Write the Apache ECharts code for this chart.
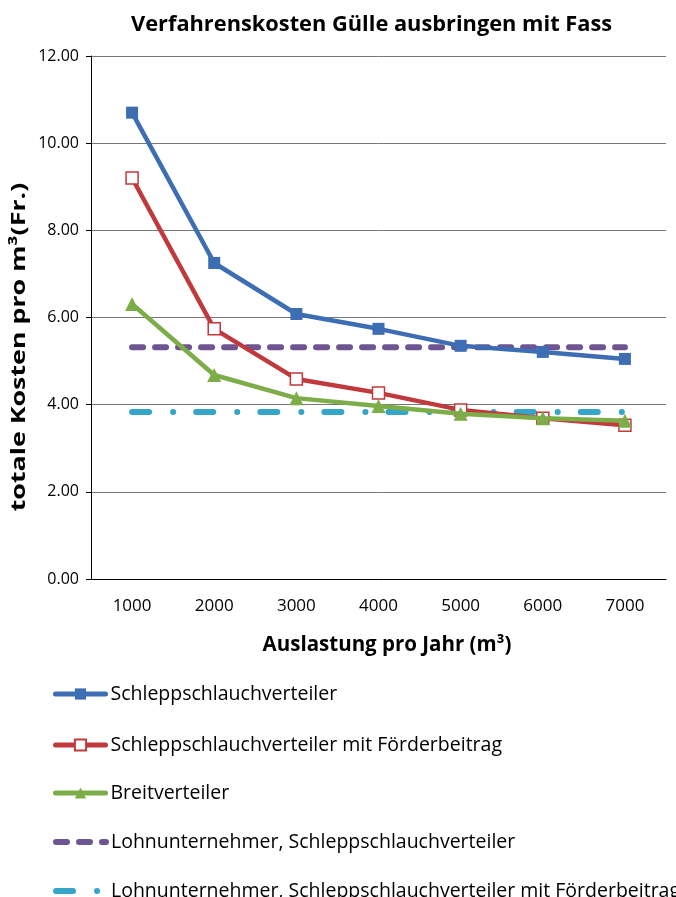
<!DOCTYPE html>
<html>
<head>
<meta charset="utf-8">
<script src="https://cdn.jsdelivr.net/npm/echarts@6/dist/echarts.min.js"></script>
<style>
html,body{margin:0;padding:0;background:#fff;overflow:hidden;}
#chart{width:676px;height:897px;}
</style>
</head>
<body>
<div id="chart"></div>
<script>
// Auslastung pro Jahr (m³)
const categories = ['1000', '2000', '3000', '4000', '5000', '6000', '7000'];

// Kosten pro m³ in Fr.
const schleppschlauch = [10.70, 7.25, 6.08, 5.74, 5.35, 5.21, 5.05];
const schleppschlauchFoerder = [9.20, 5.74, 4.59, 4.27, 3.88, 3.69, 3.53];
const breitverteiler = [6.31, 4.68, 4.15, 3.97, 3.79, 3.69, 3.63];
const lohnSchlepp = [5.32, 5.32, 5.32, 5.32, 5.32, 5.32, 5.32];
const lohnSchleppFoerder = [3.83, 3.83, 3.83, 3.83, 3.83, 3.83, 3.83];

const yTicks = [0, 2, 4, 6, 8, 10, 12];

const font = '"Open Sans", "Noto Sans", sans-serif';
const chart = echarts.init(document.getElementById('chart'), null, { renderer: 'canvas' });

const names = [
  'Schleppschlauchverteiler',
  'Schleppschlauchverteiler mit Förderbeitrag',
  'Breitverteiler',
  'Lohnunternehmer, Schleppschlauchverteiler',
  'Lohnunternehmer, Schleppschlauchverteiler mit Förderbeitrag'
];
const colors = ['#3D6EB3', '#C1393D', '#7DAD48', '#6E5591', '#35A5C8'];
const dashes = [null, null, null, [11, 12], [17, 24, 0.1, 23]];

// one legend row per series, stacked below the plot
const legendTops = [678, 729, 777, 826, 875];
const legends = names.map((n, i) => ({
  orient: 'vertical',
  left: 48,
  top: legendTops[i],
  itemWidth: 50,
  itemHeight: 14,
  textStyle: { fontFamily: font, fontSize: 19.5, lineHeight: 22, color: '#000' },
  data: [Object.assign(
    { name: n, lineStyle: { width: i < 3 ? 5 : 6, type: dashes[i] || 'solid', cap: 'round', color: colors[i] } },
    i >= 3 ? { itemStyle: { opacity: 0 } } : {}
  )]
}));

chart.setOption({
  animation: false,
  textStyle: { fontFamily: font, color: '#000' },
  title: {
    text: 'Verfahrenskosten Gülle ausbringen mit Fass',
    left: 126,
    top: 9,
    textStyle: { fontFamily: font, fontSize: 21.8, fontWeight: 'bold', color: '#000' }
  },
  grid: { left: 91, right: 10, top: 56, bottom: 318 },
  // rotated y-axis title, stretched along its reading direction
  graphic: [{
    type: 'text',
    x: 19,
    y: 347,
    rotation: Math.PI / 2,
    scaleX: 1.34,
    style: {
      text: 'totale Kosten pro m³(Fr.)',
      font: 'bold 20px "Open Sans", "Noto Sans", sans-serif',
      fill: '#000',
      align: 'center',
      verticalAlign: 'middle'
    }
  }],
  legend: legends,
  xAxis: {
    type: 'category',
    data: categories,
    boundaryGap: true,
    name: 'Auslastung pro Jahr (m³)',
    nameLocation: 'middle',
    nameGap: 56,
    nameTextStyle: { fontFamily: font, fontSize: 20.5, fontWeight: 'bold', color: '#000', padding: [0, 0, 0, 17] },
    axisLine: { lineStyle: { color: '#000', width: 1 } },
    axisTick: { show: false },
    axisLabel: { fontSize: 17, color: '#000', margin: 19 }
  },
  yAxis: {
    type: 'value',
    min: yTicks[0],
    max: yTicks[yTicks.length - 1],
    interval: 2,
    axisLine: { show: true, lineStyle: { color: '#000', width: 1 } },
    axisTick: { show: true, length: 5, lineStyle: { color: '#000' } },
    axisLabel: { fontSize: 16, color: '#000', margin: 12, formatter: v => v.toFixed(2) },
    splitLine: { lineStyle: { color: '#777', width: 1 } }
  },
  series: [
    {
      name: names[0],
      type: 'line',
      data: schleppschlauch,
      symbol: 'rect',
      symbolSize: 12,
      itemStyle: { color: colors[0] },
      lineStyle: { color: colors[0], width: 4.5 },
      z: 5
    },
    {
      name: names[1],
      type: 'line',
      data: schleppschlauchFoerder,
      symbol: 'rect',
      symbolSize: 12,
      itemStyle: { color: '#fff', borderColor: colors[1], borderWidth: 1.5 },
      lineStyle: { color: colors[1], width: 4.5 },
      z: 4
    },
    {
      name: names[2],
      type: 'line',
      data: breitverteiler,
      symbol: 'triangle',
      symbolSize: 14,
      itemStyle: { color: colors[2] },
      lineStyle: { color: colors[2], width: 4.5 },
      z: 6
    },
    {
      name: names[3],
      type: 'line',
      data: lohnSchlepp,
      symbol: 'none',
      itemStyle: { color: colors[3] },
      lineStyle: { color: colors[3], width: 6, type: dashes[3], cap: 'round' },
      z: 3
    },
    {
      name: names[4],
      type: 'line',
      data: lohnSchleppFoerder,
      symbol: 'none',
      itemStyle: { color: colors[4] },
      lineStyle: { color: colors[4], width: 6, type: dashes[4], cap: 'round' },
      z: 3
    }
  ]
});
</script>
</body>
</html>
